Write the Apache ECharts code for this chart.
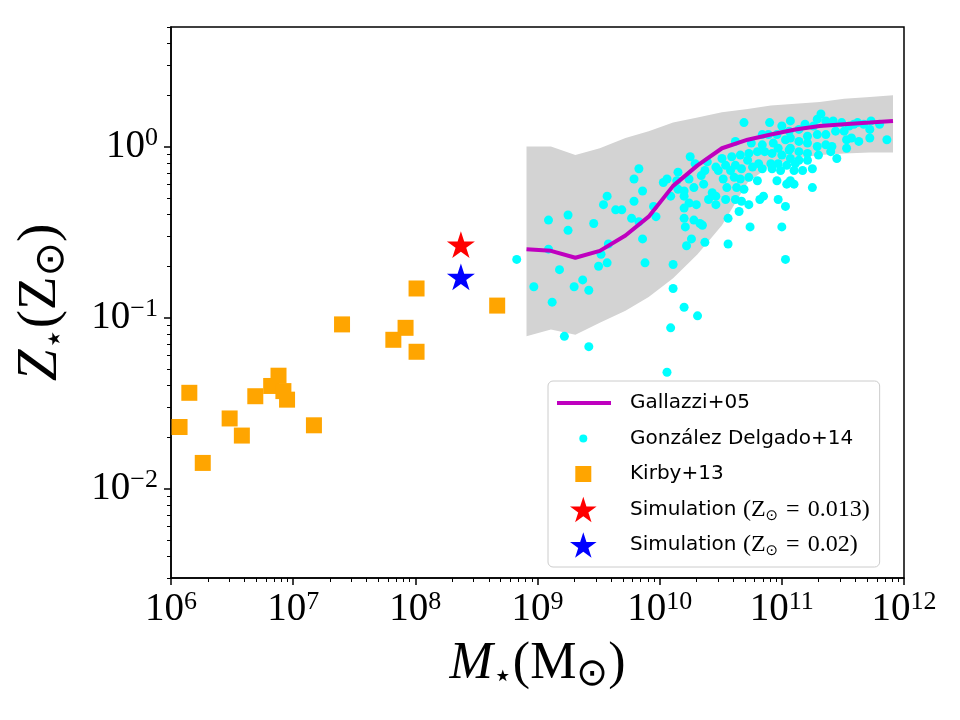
<!DOCTYPE html>
<html>
<head>
<meta charset="utf-8">
<script src="https://cdn.jsdelivr.net/npm/echarts@6/dist/echarts.min.js"></script>
<style>html,body{margin:0;padding:0;background:#fff}#c{width:960px;height:720px}</style>
</head>
<body>
<div id="c"></div>
<script>
// ---------- Data (log10 values) ----------
// Gallazzi+05: log M*, and log Z/Zsun (16th, 50th, 84th percentiles)
const gallazziLogMass = [8.91, 9.11, 9.31, 9.51, 9.72, 9.91, 10.11, 10.31, 10.51, 10.72, 10.91, 11.11, 11.31, 11.51, 11.72, 11.91];
const gallazziLogZ50 = [-0.60, -0.61, -0.65, -0.61, -0.52, -0.41, -0.23, -0.11, -0.01, 0.04, 0.07, 0.10, 0.12, 0.13, 0.14, 0.15];
const gallazziLogZ16 = [-1.11, -1.07, -1.10, -1.03, -0.96, -0.88, -0.77, -0.63, -0.46, -0.21, -0.11, -0.07, -0.05, -0.04, -0.035, -0.035];
const gallazziLogZ84 = [0.00, 0.00, -0.05, -0.01, 0.05, 0.09, 0.14, 0.17, 0.20, 0.22, 0.24, 0.25, 0.26, 0.28, 0.29, 0.30];

// González Delgado+14: log M*, log Z/Zsun
const gdLogMass = [8.83,9.09,9.25,9.25,9.09,9.18,8.97,9.12,9.30,9.37,9.42,9.22,9.42,9.46,9.57,9.54,9.64,9.69,9.58,9.52,
  9.50,9.57,9.79,9.77,9.83,9.86,9.79,9.83,9.86,9.88,10.06,10.09,10.20,10.31,10.11,10.11,9.97,9.95,10.25,10.29,
  10.39,10.46,10.15,10.06,10.03,10.14,10.24,10.34,10.37,10.36,10.28,10.09,10.15,10.20,10.20,10.43,10.40,10.46,10.24,10.30,
  10.20,10.20,10.28,10.33,10.35,10.21,10.26,10.22,10.37,10.69,10.90,11.00,11.07,10.84,10.89,10.96,11.03,10.62,10.75,10.84,
  10.93,10.97,11.06,10.51,10.59,10.66,10.73,10.80,10.86,10.92,11.00,10.72,10.54,10.62,10.81,10.91,10.97,11.04,10.48,10.58,
  10.67,10.76,10.84,10.92,10.99,10.52,10.61,10.66,10.73,10.80,10.96,11.04,10.55,10.63,10.69,10.85,10.82,10.97,10.46,10.54,
  10.62,10.67,10.73,10.65,10.56,11.03,10.74,11.00,10.56,11.03,11.25,11.07,11.17,11.25,11.45,11.53,11.63,11.86,11.72,11.73,
  11.80,11.62,11.55,11.42,11.32,11.29,11.19,11.36,11.26,11.49,11.14,11.06,11.21,11.29,11.36,11.44,11.51,11.53,11.07,11.14,
  11.21,11.29,11.36,11.41,11.07,11.14,11.21,11.30,11.40,11.07,11.14,11.21,11.11,11.10,11.06,11.10,11.59,11.67,11.72,11.57];
const gdLogZ = [-0.66,-0.43,-0.40,-0.49,-0.60,-0.72,-0.82,-0.91,-0.82,-0.78,-0.84,-1.11,-1.17,-0.45,-0.29,-0.34,-0.37,-0.37,-0.57,-0.63,
  -0.70,-0.68,-0.32,-0.42,-0.44,-0.54,-0.19,-0.13,-0.26,-0.68,-1.32,-1.06,-0.94,-0.99,-0.83,-0.69,-0.41,-0.35,-0.06,-0.10,
  -0.09,-0.12,-0.15,-0.19,-0.21,-0.20,-0.19,-0.17,-0.14,-0.22,-0.24,-0.29,-0.25,-0.26,-0.29,-0.27,-0.31,-0.34,-0.33,-0.34,
  -0.36,-0.42,-0.43,-0.45,-0.46,-0.47,-0.54,-0.58,-0.56,0.14,0.14,0.12,0.15,0.07,0.07,0.07,0.04,0.03,0.02,0.01,
  0.02,-0.01,-0.02,-0.07,-0.06,-0.05,-0.04,-0.03,-0.03,-0.04,-0.05,-0.08,-0.11,-0.11,-0.10,-0.10,-0.10,-0.11,-0.14,-0.14,
  -0.13,-0.12,-0.13,-0.13,-0.14,-0.19,-0.18,-0.19,-0.18,-0.20,-0.20,-0.22,-0.24,-0.24,-0.25,-0.29,-0.31,-0.31,-0.29,-0.31,
  -0.31,-0.32,-0.34,-0.38,-0.42,-0.35,-0.47,-0.47,-0.57,-0.66,-0.24,-0.20,-0.14,-0.13,-0.07,-0.01,0.03,0.04,0.05,0.15,
  0.13,0.14,0.12,0.15,0.19,0.16,0.13,0.15,0.12,0.14,0.10,0.09,0.06,0.07,0.07,0.09,0.09,0.04,0.05,0.03,
  0.02,0.00,0.01,0.00,-0.01,-0.03,-0.04,-0.05,-0.03,-0.07,-0.08,-0.08,-0.10,-0.14,-0.21,-0.22,0.13,0.13,0.10,0.05];

// Kirby+13: log M*, log Z/Zsun
const kirbyLogMass = [6.07, 6.15, 6.26, 6.48, 6.58, 6.69, 6.82, 6.88, 6.92, 6.95, 7.17, 7.40, 7.82, 7.92, 8.01, 8.01, 8.67];
const kirbyLogZ = [-1.64, -1.44, -1.85, -1.59, -1.69, -1.46, -1.40, -1.34, -1.43, -1.48, -1.63, -1.04, -1.13, -1.06, -0.83, -1.20, -0.93];

// Simulation (linear units)
const simMass = 2.36e8;
const simZ013 = 0.267;
const simZ002 = 0.173;

// Axes
const xMin = 1e6, xMax = 1e12;
const yMin = 0.003, yMax = 5;
const xMajorTicks = [1e6, 1e7, 1e8, 1e9, 1e10, 1e11, 1e12];
const yMajorTicks = [0.01, 0.1, 1];

const seriesNames = ['Gallazzi+05', 'González Delgado+14', 'Kirby+13', 'Simulation (Z⊙ = 0.013)', 'Simulation (Z⊙ = 0.02)'];

// ---------- Build ----------
const p10 = v => Math.pow(10, v);
function minorTicks(e0, e1, lo, hi) {
  const out = [];
  for (let e = e0; e <= e1; e++) for (let k = 2; k <= 9; k++) {
    const v = Number((k * Math.pow(10, e)).toPrecision(6));
    if (v > lo * 0.999 && v < hi * 1.001) out.push(v);
  }
  return out;
}
const xMinorTicks = minorTicks(6, 11, xMin, xMax);
const yMinorTicks = minorTicks(-3, 0, yMin, yMax);

const starPath = 'path://M0,-10L2.245,-3.09L9.511,-3.09L3.633,1.18L5.878,8.09L0,3.82L-5.878,8.09L-3.633,1.18L-9.511,-3.09L-2.245,-3.09Z';

const bandData = gallazziLogMass.map((m, i) => [p10(m), p10(gallazziLogZ16[i]), p10(gallazziLogZ84[i])]);
const lineData = gallazziLogMass.map((m, i) => [p10(m), p10(gallazziLogZ50[i])]);
const gdData = gdLogMass.map((m, i) => [p10(m), p10(gdLogZ[i])]);
const kirbyData = kirbyLogMass.map((m, i) => [p10(m), p10(kirbyLogZ[i])]);

const supLabel = v => {
  const e = Math.round(Math.log10(v));
  return '{b|10}{s|' + (e < 0 ? '\u2212' + (-e) : String(e)) + '}';
};
const tickRich = {
  b: {fontFamily: 'Liberation Serif', fontSize: 39, lineHeight: 42, color: '#000'},
  s: {fontFamily: 'Liberation Serif', fontSize: 26, lineHeight: 26, verticalAlign: 'top', color: '#000'}
};
const xNameRich = {
  i: {fontFamily: 'Liberation Serif', fontStyle: 'italic', fontSize: 52, lineHeight: 60, color: '#000'},
  r: {fontFamily: 'Liberation Serif', fontSize: 52, lineHeight: 60, color: '#000'},
  st: {fontFamily: 'DejaVu Sans', fontSize: 32, lineHeight: 27, verticalAlign: 'bottom', color: '#000'},
  sub: {fontFamily: 'DejaVu Sans', fontSize: 38, lineHeight: 27, verticalAlign: 'bottom', color: '#000'}
};
const yNameRich = {
  i: {fontFamily: 'Liberation Serif', fontStyle: 'italic', fontSize: 57, lineHeight: 64, color: '#000'},
  r: {fontFamily: 'Liberation Serif', fontSize: 55, lineHeight: 64, color: '#000'},
  st: {fontFamily: 'DejaVu Sans', fontSize: 34, lineHeight: 29, verticalAlign: 'bottom', color: '#000'},
  sub: {fontFamily: 'DejaVu Sans', fontSize: 41, lineHeight: 29, verticalAlign: 'bottom', color: '#000'}
};

const icons = {
  line: 'path://M0 0M68 28M0 12L54 12L54 16L0 16Z',
  dot: 'path://M0 0M68 28M22.3 14A4 4 0 1 0 30.3 14A4 4 0 1 0 22.3 14Z',
  square: 'path://M0 0M68 28M18.3 6L34.3 6L34.3 22L18.3 22Z',
  star: 'path://M0 0M68 28M26.3 1.3L29.44 10.97L39.62 10.97L31.39 16.95L34.53 26.63L26.3 20.65L18.07 26.63L21.21 16.95L12.99 10.97L23.16 10.97Z'
};

const chart = echarts.init(document.getElementById('c'), null, {renderer: 'canvas'});
const axisCommon = {
  type: 'log', logBase: 10, gridIndex: 0, splitLine: {show: false}, minorSplitLine: {show: false}
};
chart.setOption({
  animation: false,
  backgroundColor: '#fff',
  grid: {left: 171, right: 56, top: 27, bottom: 142, show: true, borderColor: '#000', borderWidth: 1.5, backgroundColor: 'transparent'},
  xAxis: [
    Object.assign({}, axisCommon, {
      min: xMin, max: xMax, position: 'bottom',
      axisLine: {show: true, onZero: false, lineStyle: {color: '#000', width: 1.5}},
      axisTick: {show: true, inside: false, length: 7, customValues: xMajorTicks, lineStyle: {color: '#000', width: 1.5}},
      axisLabel: {show: true, margin: 11, customValues: xMajorTicks, formatter: supLabel, rich: tickRich},
      name: '{i|M}{st|\u22C6}{r|(M}{sub|\u2299}{r|)}',
      nameLocation: 'middle', nameGap: 56,
      nameTextStyle: {rich: xNameRich}
    }),
    Object.assign({}, axisCommon, {
      min: xMin, max: xMax, position: 'bottom',
      axisLine: {show: false},
      axisTick: {show: true, inside: false, length: 4, customValues: xMinorTicks, lineStyle: {color: '#000', width: 1}},
      axisLabel: {show: false}
    })
  ],
  yAxis: [
    Object.assign({}, axisCommon, {
      min: yMin, max: yMax, position: 'left',
      axisLine: {show: true, onZero: false, lineStyle: {color: '#000', width: 1.5}},
      axisTick: {show: true, inside: false, length: 7, customValues: yMajorTicks, lineStyle: {color: '#000', width: 1.5}},
      axisLabel: {show: true, margin: 13, customValues: yMajorTicks, formatter: supLabel, rich: tickRich},
      name: '{i|Z}{st|\u22C6}{r|(Z}{sub|\u2299}{r|)}',
      nameLocation: 'middle', nameGap: 98,
      nameTextStyle: {rich: yNameRich}
    }),
    Object.assign({}, axisCommon, {
      min: yMin, max: yMax, position: 'left',
      axisLine: {show: false},
      axisTick: {show: true, inside: false, length: 4, customValues: yMinorTicks, lineStyle: {color: '#000', width: 1}},
      axisLabel: {show: false}
    })
  ],
  legend: {
    orient: 'vertical', left: 548, top: 381,
    padding: [8, 10, 8, 9], itemGap: 7.5, itemWidth: 68, itemHeight: 28,
    selectedMode: false,
    backgroundColor: 'rgba(255,255,255,0.8)', borderColor: '#cccccc', borderWidth: 1, borderRadius: 5,
    itemStyle: {borderWidth: 0},
    data: [
      {name: seriesNames[0], icon: icons.line},
      {name: seriesNames[1], icon: icons.dot},
      {name: seriesNames[2], icon: icons.square},
      {name: seriesNames[3], icon: icons.star},
      {name: seriesNames[4], icon: icons.star}
    ],
    formatter: function (name) {
      if (name.indexOf('Simulation') === 0) {
        const val = name.indexOf('0.013') > 0 ? '0.013' : '0.02';
        return '{s|Simulation }{m|(Z}{sub|\u2299}{m|\u2004=\u2004' + val + ')}';
      }
      return '{s|' + name + '}';
    },
    textStyle: {
      color: '#000',
      rich: {
        s: {fontFamily: 'DejaVu Sans', fontSize: 20, lineHeight: 28, color: '#000'},
        m: {fontFamily: 'Liberation Serif', fontSize: 24, lineHeight: 28, color: '#000'},
        sub: {fontFamily: 'DejaVu Sans', fontSize: 15, lineHeight: 8, verticalAlign: 'bottom', color: '#000'}
      }
    }
  },
  series: [
    {
      name: 'band', type: 'custom', xAxisIndex: 0, yAxisIndex: 0, silent: true, clip: true,
      data: bandData, encode: {x: 0, y: [1, 2]},
      renderItem: function (params, api) {
        if (params.dataIndexInside !== 0) return null;
        const n = params.dataInsideLength;
        const pts = [];
        for (let i = 0; i < n; i++) pts.push(api.coord([api.value(0, i), api.value(2, i)]));
        for (let i = n - 1; i >= 0; i--) pts.push(api.coord([api.value(0, i), api.value(1, i)]));
        return {type: 'polygon', shape: {points: pts}, style: {fill: '#d3d3d3', stroke: null}};
      }
    },
    {
      name: seriesNames[0], type: 'line', xAxisIndex: 0, yAxisIndex: 0, data: lineData,
      symbol: 'none', showSymbol: false, smooth: false,
      itemStyle: {color: '#bf00bf'}, lineStyle: {color: '#bf00bf', width: 4}
    },
    {
      name: seriesNames[1], type: 'scatter', xAxisIndex: 0, yAxisIndex: 0, data: gdData,
      symbol: 'circle', symbolSize: 9, itemStyle: {color: '#00ffff', opacity: 1}
    },
    {
      name: seriesNames[2], type: 'scatter', xAxisIndex: 0, yAxisIndex: 0, data: kirbyData,
      symbol: 'rect', symbolSize: 16, itemStyle: {color: '#ffa500', opacity: 1}
    },
    {
      name: seriesNames[3], type: 'scatter', xAxisIndex: 0, yAxisIndex: 0, data: [[simMass, simZ013]],
      symbol: starPath, symbolSize: 28, symbolKeepAspect: true, itemStyle: {color: '#ff0000', opacity: 1}
    },
    {
      name: seriesNames[4], type: 'scatter', xAxisIndex: 0, yAxisIndex: 0, data: [[simMass, simZ002]],
      symbol: starPath, symbolSize: 28, symbolKeepAspect: true, itemStyle: {color: '#0000ff', opacity: 1}
    }
  ]
});
</script>
</body>
</html>
